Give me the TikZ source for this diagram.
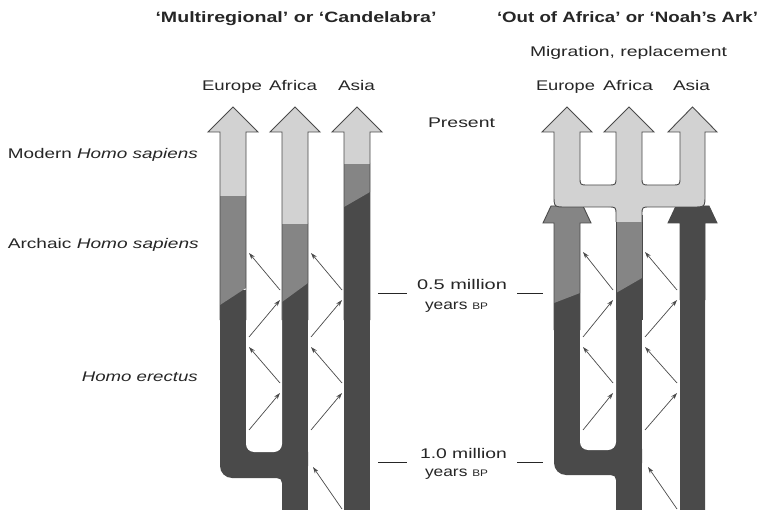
\documentclass[tikz,border=0pt]{standalone}
\usepackage{fontspec}
\setmainfont{Liberation Sans}
\usepackage{graphicx}
\usetikzlibrary{arrows.meta}
\definecolor{lightg}{HTML}{D2D2D2}
\definecolor{midg}{HTML}{858585}
\definecolor{darkg}{HTML}{4A4A4A}
\definecolor{inkg}{HTML}{262626}
\newcommand{\sx}[2]{\resizebox{#1pt}{\height}{#2}}
\newcommand{\lf}{\fontsize{14}{16}\selectfont}
\newcommand{\tf}{\fontsize{15}{17}\selectfont\bfseries}
\begin{document}
\begin{tikzpicture}[x=1pt,y=-1pt,
  lbl/.style={inner sep=0pt, anchor=base, text=inkg},
  outl/.style={draw=darkg, line width=0.9pt, line join=miter},
  mig/.style={draw=darkg, line width=0.7pt, -{Stealth[length=6.5pt,width=4.2pt]}},
  tick/.style={draw=inkg, line width=0.7pt}]
\useasboundingbox (0,0) rectangle (762,510);
\fill[white] (0,0) rectangle (762,510);

% ---------- LEFT: multiregional ----------
% dark parts
\fill[darkg] (220,290) rectangle (246,466);
\fill[darkg,rounded corners=12pt] (220,440) rectangle (308,478);
\fill[darkg] (282,280) rectangle (308,510);
\fill[darkg] (277,478) -- (282,478) -- (282,483) .. controls (282,480) and (280,478) .. (277,478) -- cycle;
\fill[white,rounded corners=8pt] (246,150) rectangle (282,452);
\fill[darkg] (344,190) rectangle (370,510);
% medium parts
\fill[midg] (220,195) -- (246,195) -- (246,288) -- (220,305) -- cycle;
\fill[midg] (282,223) -- (308,223) -- (308,283) -- (282,302) -- cycle;
\fill[midg] (344,163) -- (370,163) -- (370,192) -- (344,207) -- cycle;
% light parts
\fill[lightg] (220,196) -- (220,132) -- (208,132) -- (233,107) -- (258,132) -- (246,132) -- (246,196) -- cycle;
\fill[lightg] (282,224) -- (282,132) -- (270,132) -- (295,107) -- (320,132) -- (308,132) -- (308,224) -- cycle;
\fill[lightg] (344,164) -- (344,132) -- (332,132) -- (357,107) -- (382,132) -- (370,132) -- (370,164) -- cycle;
% outlines
\draw[outl] (220,320) -- (220,132) -- (208,132) -- (233,107) -- (258,132) -- (246,132) -- (246,320);
\draw[outl] (282,320) -- (282,132) -- (270,132) -- (295,107) -- (320,132) -- (308,132) -- (308,320);
\draw[outl] (344,320) -- (344,132) -- (332,132) -- (357,107) -- (382,132) -- (370,132) -- (370,320);

% ---------- RIGHT: out of Africa ----------
\fill[darkg] (554,290) rectangle (580,463);
\fill[darkg,rounded corners=12pt] (554,437) rectangle (642,475);
\fill[darkg] (616,275) rectangle (642,510);
\fill[darkg] (611,475) -- (616,475) -- (616,480) .. controls (616,477) and (614,475) .. (611,475) -- cycle;
\fill[white,rounded corners=8pt] (580,240) rectangle (616,450);
\fill[darkg] (680,223) -- (668,223) -- (676,206) -- (709,206) -- (717,223) -- (705,223) -- (705,510) -- (680,510) -- cycle;
% medium
\fill[midg] (554,303) -- (554,223) -- (543,223) -- (551,206) -- (583,206) -- (591,223) -- (580,223) -- (580,293) -- cycle;
\fill[midg] (616,215) -- (642,215) -- (642,278) -- (616,293) -- cycle;
% outlines of lower columns
\draw[outl] (554,330) -- (554,223) -- (543,223) -- (551,206) -- (583,206) -- (591,223) -- (580,223) -- (580,330);
\draw[outl] (616,215) -- (616,320) (642,215) -- (642,320);
\draw[outl] (680,300) -- (680,223) -- (668,223) -- (676,206) -- (709,206) -- (717,223) -- (705,223) -- (705,300);
% trident
\filldraw[fill=lightg, outl] (616,222) -- (616,215) .. controls (616,207) .. (608,207) -- (566,207)
  .. controls (554,207) .. (554,195) -- (554,132) -- (542,132) -- (567,107) -- (592,132) -- (580,132)
  -- (580,177) .. controls (580,185) .. (588,185) -- (608,185) .. controls (616,185) .. (616,177)
  -- (616,132) -- (604,132) -- (629,107) -- (654,132) -- (642,132)
  -- (642,177) .. controls (642,185) .. (650,185) -- (672,185) .. controls (680,185) .. (680,177)
  -- (680,132) -- (668,132) -- (692.5,107) -- (717,132) -- (705,132)
  -- (705,195) .. controls (705,207) .. (693,207) -- (650,207) .. controls (642,207) .. (642,215) -- (642,222);

% ---------- migration arrows ----------
\foreach \n/\ax/\ay/\bx/\by in {
  a1/280/290/249/253, a2/249/337/280/300, a3/280/383/249/347, a4/249/430/280/393,
  b1/342/290/311/253, b2/311/337/342/300, b3/342/383/311/347, b4/311/430/342/393, b5/342/509/313/467,
  c1/613/290/583/252, c2/583/337/613/300, c3/613/383/583/347, c4/583/430/613/393,
  d1/677/290/645/252, d2/645/337/677/300, d3/677/383/645/347, d4/645/430/677/393, d5/677/509/648/467}{
  \coordinate (\n s) at (\ax,\ay);
  \coordinate (\n e) at (\bx,\by);
  \draw[mig] (\n s) -- (\n e);
}

% ---------- time ticks ----------
\coordinate (t1a) at (378,293); \coordinate (t1b) at (407,293);
\coordinate (t1c) at (517,293); \coordinate (t1d) at (543,293);
\coordinate (t2a) at (378,462); \coordinate (t2b) at (407,462);
\coordinate (t2c) at (517,462); \coordinate (t2d) at (543,462);
\draw[tick] (t1a) -- (t1b); \draw[tick] (t1c) -- (t1d);
\draw[tick] (t2a) -- (t2b); \draw[tick] (t2c) -- (t2d);

% ---------- texts ----------
\node[lbl] (titleL) at (296,23) {\sx{281}{\tf ‘Multiregional’ or ‘Candelabra’}};
\node[lbl] (titleR) at (627.5,23) {\sx{261}{\tf ‘Out of Africa’ or ‘Noah’s Ark’}};
\node[lbl] (migr) at (628.5,57) {\sx{197}{\lf Migration, replacement}};

\node[lbl] (eurL) at (232,91) {\sx{60}{\lf Europe}};
\node[lbl] (afrL) at (293,91) {\sx{48}{\lf Africa}};
\node[lbl] (asiL) at (356.5,91) {\sx{37}{\lf Asia}};
\node[lbl] (eurR) at (565.5,91) {\sx{59}{\lf Europe}};
\node[lbl] (afrR) at (628,91) {\sx{50}{\lf Africa}};
\node[lbl] (asiR) at (691.5,91) {\sx{37}{\lf Asia}};

\node[lbl] (present) at (461.5,128) {\sx{67}{\lf Present}};
\node[lbl] (m05) at (462,290) {\sx{90}{\lf 0.5 million}};
\node[lbl] (y05) at (456.5,309) {\sx{63}{\lf years {\fontsize{9.5}{11}\selectfont BP}}};
\node[lbl] (m10) at (463.5,458) {\sx{87}{\lf 1.0 million}};
\node[lbl] (y10) at (456.5,476) {\sx{63}{\lf years {\fontsize{9.5}{11}\selectfont BP}}};

\node[lbl,anchor=base east] (modern) at (198,159) {\sx{190}{\lf Modern \textit{Homo sapiens}}};
\node[lbl,anchor=base east] (archaic) at (199,249) {\sx{191}{\lf Archaic \textit{Homo sapiens}}};
\node[lbl,anchor=base east] (erectus) at (198,381) {\sx{116}{\lf \textit{Homo erectus}}};
\end{tikzpicture}
\end{document}
